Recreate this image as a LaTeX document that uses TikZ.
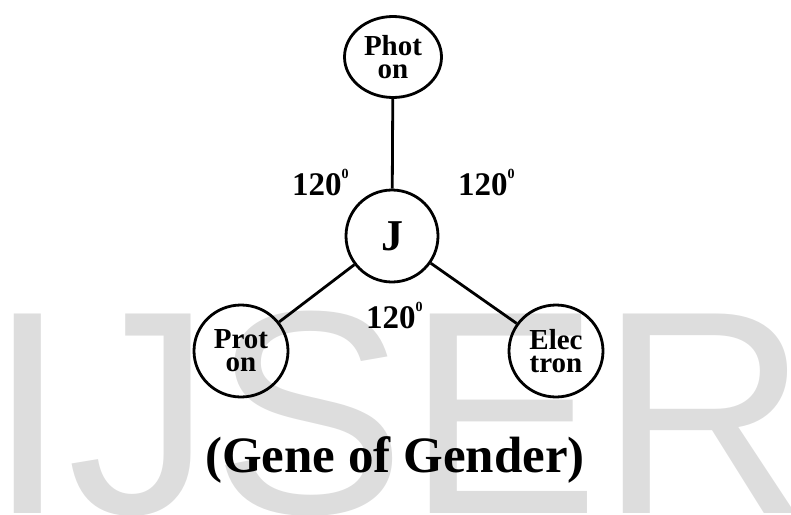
\documentclass[tikz,border=0pt]{standalone}
\usepackage{fontspec}
\setmainfont{Liberation Serif}
\newfontfamily\wmfont{Liberation Sans}
\usetikzlibrary{shapes.geometric}
\definecolor{wmgray}{RGB}{221,221,221}
\newcommand{\degsup}{\raisebox{17pt}{\fontsize{14}{14}\selectfont 0}}
\tikzset{
  particle/.style={ellipse, draw=black, line width=2.8pt, inner sep=0pt, align=center,
    font=\bfseries\fontsize{29}{23}\selectfont},
  angle label/.style={anchor=base west, inner sep=0pt, font=\bfseries\fontsize{33}{33}\selectfont},
  link/.style={line width=2.8pt, draw=black}
}
\begin{document}
\begin{tikzpicture}[x=1pt, y=-1pt]
\useasboundingbox (0,0) rectangle (791,514);
% watermark
\node[anchor=base west, inner sep=0pt, text=wmgray, font=\wmfont\fontsize{290}{290}\selectfont] (wm) at (-13,513) {IJSER};
% particles
\node[particle, minimum width=97pt, minimum height=81pt] (photon) at (393,57) {Phot\\on};
\node[particle, minimum width=92pt, minimum height=92pt, font=\bfseries\fontsize{44}{44}\selectfont] (j) at (392,236) {J};
\node[particle, minimum width=94pt, minimum height=92pt] (proton) at (241,351) {Prot\\on};
\node[particle, minimum width=94pt, minimum height=92pt] (electron) at (556,351) {Elec\\tron};
% connectors
\draw[link] (photon) -- (j);
\draw[link] (j) -- (proton);
\draw[link] (j) -- (electron);
% angle labels
\node[angle label] (a1) at (292,195) {120\degsup};
\node[angle label] (a2) at (458,195) {120\degsup};
\node[angle label] (a3) at (366,328) {120\degsup};
% title
\node[anchor=base, inner sep=0pt, font=\bfseries\fontsize{51}{51}\selectfont] (title) at (395,472) {(Gene of Gender)};
\end{tikzpicture}
\end{document}
